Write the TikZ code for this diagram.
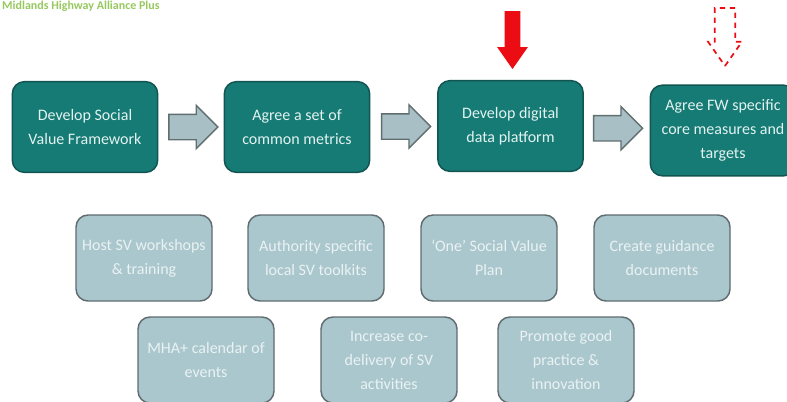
\documentclass[tikz,border=0pt]{standalone}
\usepackage{fontspec}
\setmainfont{Carlito}
\usetikzlibrary{shapes.arrows,calc}

\definecolor{stageteal}{RGB}{22,122,117}
\definecolor{stageedge}{RGB}{18,84,82}
\definecolor{stagetext}{RGB}{226,243,240}
\definecolor{taskfill}{RGB}{170,199,205}
\definecolor{taskedge}{RGB}{96,108,112}
\definecolor{tasktext}{RGB}{234,242,243}
\definecolor{arrowfill}{RGB}{168,192,197}
\definecolor{arrowedge}{RGB}{96,110,112}
\definecolor{titlegreen}{RGB}{150,200,95}
\definecolor{pointred}{RGB}{236,12,20}

\tikzset{every picture/.style={line width=0.75pt}}
\tikzset{
  stagebox/.style={draw=stageedge, fill=stageteal, text=stagetext, rounded corners=9pt, align=center,
    font=\fontsize{12}{18}\selectfont, minimum width=109pt, minimum height=68pt, line width=1.1pt},
  taskbox/.style={draw=taskedge, fill=taskfill, text=tasktext, rounded corners=9pt, align=center,
    font=\fontsize{12}{18}\selectfont, minimum width=102pt, minimum height=64.5pt, line width=1.1pt},
  flowarrow/.style={single arrow, draw=arrowedge, fill=arrowfill, inner xsep=0pt, inner ysep=9pt,
    minimum height=36.75pt, single arrow head extend=6.75pt, line width=1pt},
  droparrow/.style={single arrow, shape border rotate=270, inner ysep=0pt, inner xsep=5.6pt,
    minimum height=43.5pt, single arrow head extend=5.6pt, single arrow tip angle=70},
}

\begin{document}
\begin{tikzpicture}[x=0.75pt,y=0.75pt,yscale=-1,xscale=1]
\useasboundingbox (0,0) rectangle (787,401);
\clip (0,0) rectangle (787,401);

% Title
\node [anchor=north west, text=titlegreen, font=\bfseries\fontsize{9}{10}\selectfont, inner sep=0.5pt] (mhatitle) at (1,0) {Midlands Highway Alliance Plus};

%Stages
\node [stagebox] (framework) at (85,127) {Develop Social\\Value Framework};
\node [stagebox] (metrics) at (297,127) {Agree a set of\\common metrics};
\node [stagebox] (platform) at (510.5,126) {Develop digital\\data platform};
\node [stagebox] (measures) at (723,130.5) {Agree FW specific\\core measures and\\targets};

%Block arrows between stages
\node [flowarrow] (step1) at ($(framework.east)!0.5!(metrics.west)+(-4,0)$) {};
\node [flowarrow] (step2) at ($(metrics.east)!0.5!(platform.west)+(-4,0)$) {};
\node [flowarrow] (step3) at ($(platform.east)!0.5!(measures.west)+(-5,0)$) {};

%Pointers
\node [droparrow, fill=pointred, anchor=tip] (nowmark) at ($(platform.north)+(2,-10)$) {};
\node [droparrow, draw=pointred, dash pattern={on 4pt off 3.5pt}, line width=1.3pt, inner xsep=7pt, single arrow head extend=5pt, anchor=tip] (nextmark) at ($(measures.north)+(2,-17)$) {};

%Supporting tasks
\node [taskbox] (workshops) at (144,258) {Host SV workshops\\\& training};
\node [taskbox] (toolkits) at (316,258) {Authority specific\\local SV toolkits};
\node [taskbox] (oneplan) at (489,258) {`One' Social Value\\Plan};
\node [taskbox] (guidance) at (662,258) {Create guidance\\documents};
\node [taskbox] (calendar) at (206,360) {MHA+ calendar of\\events};
\node [taskbox] (codelivery) at (389,360) {Increase co-\\delivery of SV\\activities};
\node [taskbox] (practice) at (566,360) {Promote good\\practice \&\\innovation};

\end{tikzpicture}
\end{document}
